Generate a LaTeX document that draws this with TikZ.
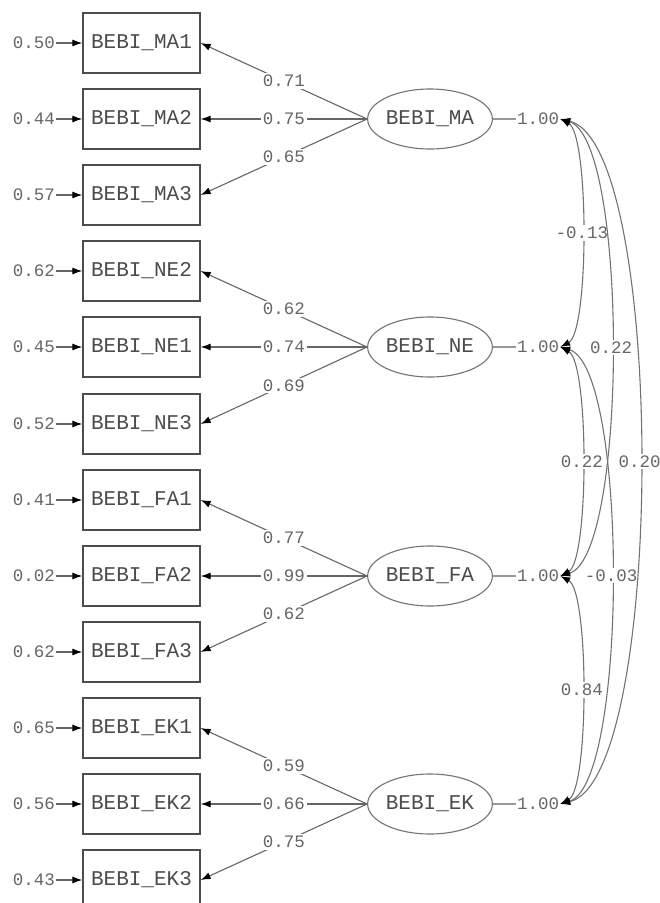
\documentclass[tikz,border=0pt]{standalone}
\usepackage{fontspec}
\newfontfamily\lisfont{Liberation Mono}
\usetikzlibrary{arrows.meta,shapes.geometric}

\begin{document}
\begin{tikzpicture}[x=1pt, y=-1pt,
        obs/.style = {rectangle, draw=black!70, line width=1.3pt, fill=white, minimum width=117pt, minimum height=60pt, inner sep=0pt, font=\lisfont\fontsize{21}{21}\selectfont, text=black!70},
        lat/.style = {ellipse, draw=black!55, line width=1.1pt, fill=white, minimum width=113pt, minimum height=60pt, inner sep=0pt, font=\lisfont\fontsize{21}{21}\selectfont, text=black!70},
        num/.style = {font=\lisfont\fontsize{17.5}{17.5}\selectfont, text=black!60, inner sep=1pt},
        lab/.style = {num, fill=white, inner sep=2pt},
        err/.style = {-{Latex[length=10pt,width=7pt,color=black]}, line width=1.1pt, draw=black!60},
        load/.style = {-{Latex[length=10pt,width=7pt,color=black]}, line width=1.1pt, draw=black!60},
        var/.style = {line width=1.1pt, draw=black!40},
        cov/.style = {{Latex[length=10pt,width=7pt,color=black]}-{Latex[length=10pt,width=7pt,color=black]}, line width=1.1pt, draw=black!55}
    ]
        \useasboundingbox (0,0) rectangle (660,903);

        % Observed indicators
        \node[obs] (ma1) at (141.5, 43) {BEBI\_MA1};
        \node[obs] (ma2) at (141.5, 119) {BEBI\_MA2};
        \node[obs] (ma3) at (141.5, 195) {BEBI\_MA3};
        \node[obs] (ne2) at (141.5, 271) {BEBI\_NE2};
        \node[obs] (ne1) at (141.5, 347) {BEBI\_NE1};
        \node[obs] (ne3) at (141.5, 424) {BEBI\_NE3};
        \node[obs] (fa1) at (141.5, 500) {BEBI\_FA1};
        \node[obs] (fa2) at (141.5, 576) {BEBI\_FA2};
        \node[obs] (fa3) at (141.5, 652) {BEBI\_FA3};
        \node[obs] (ek1) at (141.5, 728) {BEBI\_EK1};
        \node[obs] (ek2) at (141.5, 804) {BEBI\_EK2};
        \node[obs] (ek3) at (141.5, 880) {BEBI\_EK3};

        % Error variances
        \node[num] (ema1) at (34, 43) {0.50};
        \node[num] (ema2) at (34, 119) {0.44};
        \node[num] (ema3) at (34, 195) {0.57};
        \node[num] (ene2) at (34, 271) {0.62};
        \node[num] (ene1) at (34, 347) {0.45};
        \node[num] (ene3) at (34, 424) {0.52};
        \node[num] (efa1) at (34, 500) {0.41};
        \node[num] (efa2) at (34, 576) {0.02};
        \node[num] (efa3) at (34, 652) {0.62};
        \node[num] (eek1) at (34, 728) {0.65};
        \node[num] (eek2) at (34, 804) {0.56};
        \node[num] (eek3) at (34, 880) {0.43};

        \draw[err] (ema1) -- (ma1);
        \draw[err] (ema2) -- (ma2);
        \draw[err] (ema3) -- (ma3);
        \draw[err] (ene2) -- (ne2);
        \draw[err] (ene1) -- (ne1);
        \draw[err] (ene3) -- (ne3);
        \draw[err] (efa1) -- (fa1);
        \draw[err] (efa2) -- (fa2);
        \draw[err] (efa3) -- (fa3);
        \draw[err] (eek1) -- (ek1);
        \draw[err] (eek2) -- (ek2);
        \draw[err] (eek3) -- (ek3);

        % Latent factors
        \node[lat] (MA) at (430, 119) {BEBI\_MA};
        \node[lat] (NE) at (430, 347) {BEBI\_NE};
        \node[lat] (FA) at (430, 576) {BEBI\_FA};
        \node[lat] (EK) at (430, 804) {BEBI\_EK};

        % Loadings
        \draw[load] (MA.west) -- node[lab] {0.71} (ma1.east);
        \draw[load] (MA.west) -- node[lab] {0.75} (ma2.east);
        \draw[load] (MA.west) -- node[lab] {0.65} (ma3.east);
        \draw[load] (NE.west) -- node[lab] {0.62} (ne2.east);
        \draw[load] (NE.west) -- node[lab] {0.74} (ne1.east);
        \draw[load] (NE.west) -- node[lab] {0.69} (ne3.east);
        \draw[load] (FA.west) -- node[lab] {0.77} (fa1.east);
        \draw[load] (FA.west) -- node[lab] {0.99} (fa2.east);
        \draw[load] (FA.west) -- node[lab] {0.62} (fa3.east);
        \draw[load] (EK.west) -- node[lab] {0.59} (ek1.east);
        \draw[load] (EK.west) -- node[lab] {0.66} (ek2.east);
        \draw[load] (EK.west) -- node[lab] {0.75} (ek3.east);

        % Factor variances
        \node[num] (vMA) at (538, 119) {1.00};
        \node[num] (vNE) at (538, 347) {1.00};
        \node[num] (vFA) at (538, 576) {1.00};
        \node[num] (vEK) at (538, 804) {1.00};
        \draw[var] (MA) -- (vMA);
        \draw[var] (NE) -- (vNE);
        \draw[var] (FA) -- (vFA);
        \draw[var] (EK) -- (vEK);

        % Factor correlations
        \draw[cov] (vMA.east) .. controls +(29,15) and +(29,-15) .. node[lab] {-0.13} (vNE.east);
        \draw[cov] (vNE.east) .. controls +(29,15) and +(29,-15) .. node[lab] {0.22} (vFA.east);
        \draw[cov] (vFA.east) .. controls +(29,15) and +(29,-15) .. node[lab] {0.84} (vEK.east);
        \draw[cov] (vMA.east) .. controls +(68,20) and +(68,-20) .. node[lab] {0.22} (vFA.east);
        \draw[cov] (vNE.east) .. controls +(68,20) and +(68,-20) .. node[lab] {-0.03} (vEK.east);
        \draw[cov] (vMA.east) .. controls +(106,25) and +(106,-25) .. node[lab] {0.20} (vEK.east);

    \end{tikzpicture}
\end{document}
